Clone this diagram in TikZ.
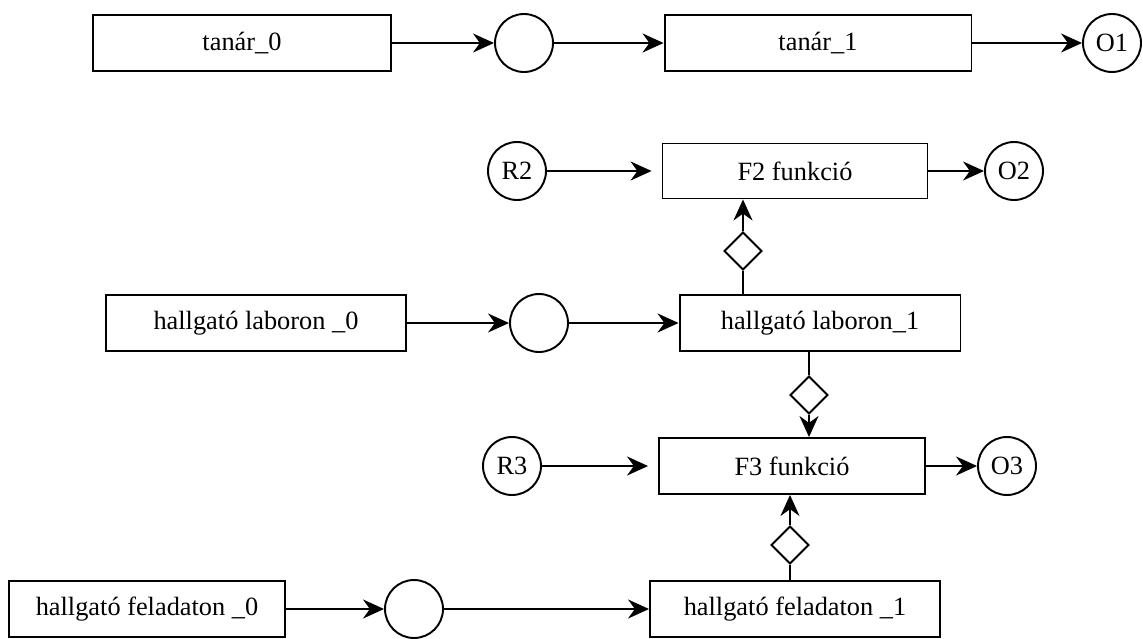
\documentclass[tikz,border=0pt]{standalone}
\usepackage{fontspec}
\setmainfont{Liberation Serif}
\usetikzlibrary{arrows.meta,positioning,shapes.geometric}

\begin{document}
\begin{tikzpicture}[x=0.02cm, y=-0.02cm, line width=1.1pt,
  every node/.style={font=\fontsize{15pt}{18pt}\selectfont},
  box/.style={draw, inner sep=0pt, minimum height=1.12cm},
  place/.style={draw, circle, inner sep=0pt, minimum size=1.16cm},
  gate/.style={draw, diamond, inner sep=0pt, minimum width=0.76cm, minimum height=0.76cm},
  flow/.style={-{Stealth[length=0.42cm, width=0.38cm]}}]
\useasboundingbox (0,0) rectangle (1143,639);

% teacher row
\node[box, minimum width=5.96cm] (t0) at (242,43) {tanár\_0};
\node[place] (c1) at (524,43) {};
\node[box, minimum width=6.14cm] (t1) at (818,43) {tanár\_1};
\node[place] (o1) at (1112,43) {O1};

% F2
\node[place] (r2) at (517,171) {R2};
\node[box, minimum width=5.30cm, minimum height=1.10cm] (f2) at (795,171) {F2 funkció};
\node[place] (o2) at (1014,171) {O2};
\node[gate] (d1) at (743,251) {};

% lab row
\node[box, minimum width=6.0cm] (l0) at (256,323) {hallgató laboron \_0};
\node[place] (c2) at (539,323) {};
\node[box, minimum width=5.62cm] (l1) at (820,323) {hallgató laboron\_1};
\node[gate] (d2) at (809,395) {};

% F3
\node[place] (r3) at (512,466) {R3};
\node[box, minimum width=5.32cm] (f3) at (792,466) {F3 funkció};
\node[place] (o3) at (1007,466) {O3};
\node[gate] (d3) at (790,545) {};

% task row
\node[box, minimum width=5.52cm] (fe0) at (147,609) {hallgató feladaton \_0};
\node[place] (c3) at (414,609) {};
\node[box, minimum width=5.8cm] (fe1) at (795,609) {hallgató feladaton \_1};

\draw[flow] (t0) -- (c1);
\draw[flow] (c1) -- (t1);
\draw[flow] (t1) -- (o1);
\draw[flow, shorten >=0.2cm] (r2) -- (f2);
\draw[flow] (f2) -- (o2);
\draw[flow] (l0) -- (c2);
\draw[flow] (c2) -- (l1);
\draw[flow, shorten >=0.2cm] (r3) -- (f3);
\draw[flow] (f3) -- (o3);
\draw[flow] (fe0) -- (c3);
\draw[flow] (c3) -- (fe1);
\draw[flow] (l1.north -| d1) -- (d1) -- (f2.south -| d1);
\draw[flow] (l1.south -| d2) -- (d2) -- (f3.north -| d2);
\draw[flow] (fe1.north -| d3) -- (d3) -- (f3.south -| d3);
\end{tikzpicture}
\end{document}
